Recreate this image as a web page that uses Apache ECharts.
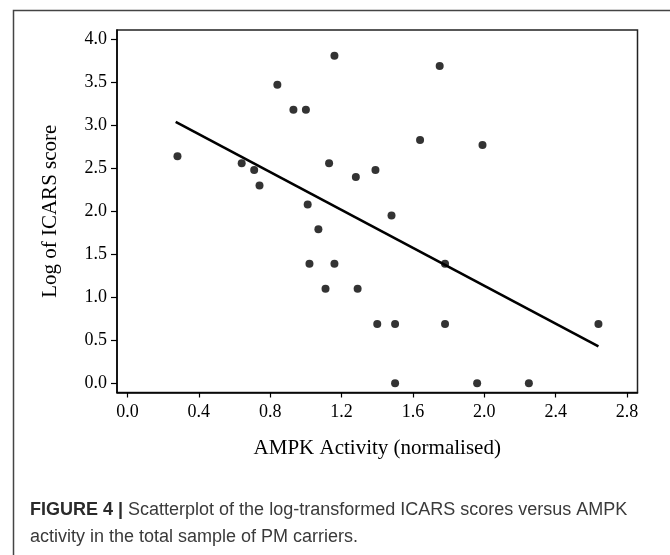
<!DOCTYPE html>
<html>
<head>
<meta charset="utf-8">
<style>
  html, body { margin: 0; padding: 0; background: #fff; }
  #main { width: 670px; height: 555px; }
</style>
<script src="https://cdn.jsdelivr.net/npm/echarts@6/dist/echarts.min.js"></script>
</head>
<body>
<div id="main"></div>
<script>
// AMPK activity (x) vs log ICARS score (y)
const ampk = [0.28, 0.64, 0.71, 0.74, 0.84, 0.93, 1.00, 1.01, 1.02, 1.07, 1.11, 1.13, 1.16, 1.16, 1.28,
  1.29, 1.39, 1.40, 1.48, 1.50, 1.50, 1.64, 1.75, 1.78, 1.78, 1.96, 1.99, 2.25, 2.64]
const logIcars = [2.64, 2.56, 2.48, 2.30, 3.47, 3.18, 3.18, 2.08, 1.39, 1.79, 1.10, 2.56, 3.81, 1.39, 2.40,
  1.10, 2.48, 0.69, 1.95, 0.69, 0.00, 2.83, 3.69, 1.39, 0.69, 0.00, 2.77, 0.00, 0.69]

// fitted line end points
const fitX = [0.27, 2.64]
const fitY = [3.04, 0.43]

const xTicks = [0.0, 0.4, 0.8, 1.2, 1.6, 2.0, 2.4, 2.8]
const yTicks = [0.0, 0.5, 1.0, 1.5, 2.0, 2.5, 3.0, 3.5, 4.0]

const serif = '"Liberation Serif", "DejaVu Serif", serif'
const sans = '"Liberation Sans", Arial, sans-serif'

const chart = echarts.init(document.getElementById('main'))

const option = {
  backgroundColor: '#fff',
  animation: false,
  grid: {
    left: 117,
    top: 30,
    right: 32.5,
    bottom: 162.5,
    show: true,
    borderColor: '#222',
    borderWidth: 1.5,
  },
  xAxis: {
    type: 'value',
    min: -0.059,
    max: 2.859,
    name: 'AMPK Activity (normalised)',
    nameLocation: 'middle',
    nameGap: 45,
    nameTextStyle: { fontFamily: serif, fontSize: 21, color: '#000' },
    axisLine: { show: true, onZero: false, lineStyle: { color: '#000', width: 1.5 } },
    axisTick: { show: true, length: 5, customValues: xTicks, lineStyle: { color: '#000', width: 1.2 } },
    axisLabel: {
      customValues: xTicks,
      margin: 11,
      fontFamily: serif,
      fontSize: 18,
      color: '#000',
      formatter: (v) => v.toFixed(1),
    },
    splitLine: { show: false },
  },
  yAxis: {
    type: 'value',
    min: -0.107,
    max: 4.108,
    name: 'Log of ICARS score',
    nameLocation: 'middle',
    nameGap: 56,
    nameTextStyle: { fontFamily: serif, fontSize: 21, color: '#000' },
    axisLine: { show: true, onZero: false, lineStyle: { color: '#000', width: 1.5 } },
    axisTick: { show: true, length: 6, customValues: yTicks, lineStyle: { color: '#000', width: 1.2 } },
    axisLabel: {
      customValues: yTicks,
      margin: 10,
      fontFamily: serif,
      fontSize: 18,
      color: '#000',
      formatter: (v) => v.toFixed(1),
    },
    splitLine: { show: false },
  },
  graphic: [
    {
      type: 'rect',
      silent: true,
      shape: { x: 13.5, y: 10.5, width: 700, height: 600 },
      style: { fill: 'none', stroke: '#444', lineWidth: 1.5 },
    },
    {
      type: 'text',
      left: 30,
      top: 501,
      style: {
        text: '{b|FIGURE 4 |} Scatterplot of the log-transformed ICARS scores versus AMPK',
        font: '18px ' + sans,
        fill: '#3a3a3a',
        rich: {
          b: { fontFamily: sans, fontSize: 18, fontWeight: 'bold', fill: '#2a2a2a' },
        },
      },
    },
    {
      type: 'text',
      left: 30,
      top: 528,
      style: {
        text: 'activity in the total sample of PM carriers.',
        font: '18px ' + sans,
        fill: '#3a3a3a',
      },
    },
  ],
  series: [
    {
      name: 'points',
      type: 'scatter',
      symbol: 'circle',
      symbolSize: 8,
      itemStyle: { color: '#000' },
      data: ampk.map((x, i) => [x, logIcars[i]]),
    },
    {
      name: 'fit',
      type: 'line',
      showSymbol: false,
      lineStyle: { color: '#000', width: 2.6 },
      data: fitX.map((x, i) => [x, fitY[i]]),
    },
  ],
}

chart.setOption(option)
</script>
</body>
</html>
